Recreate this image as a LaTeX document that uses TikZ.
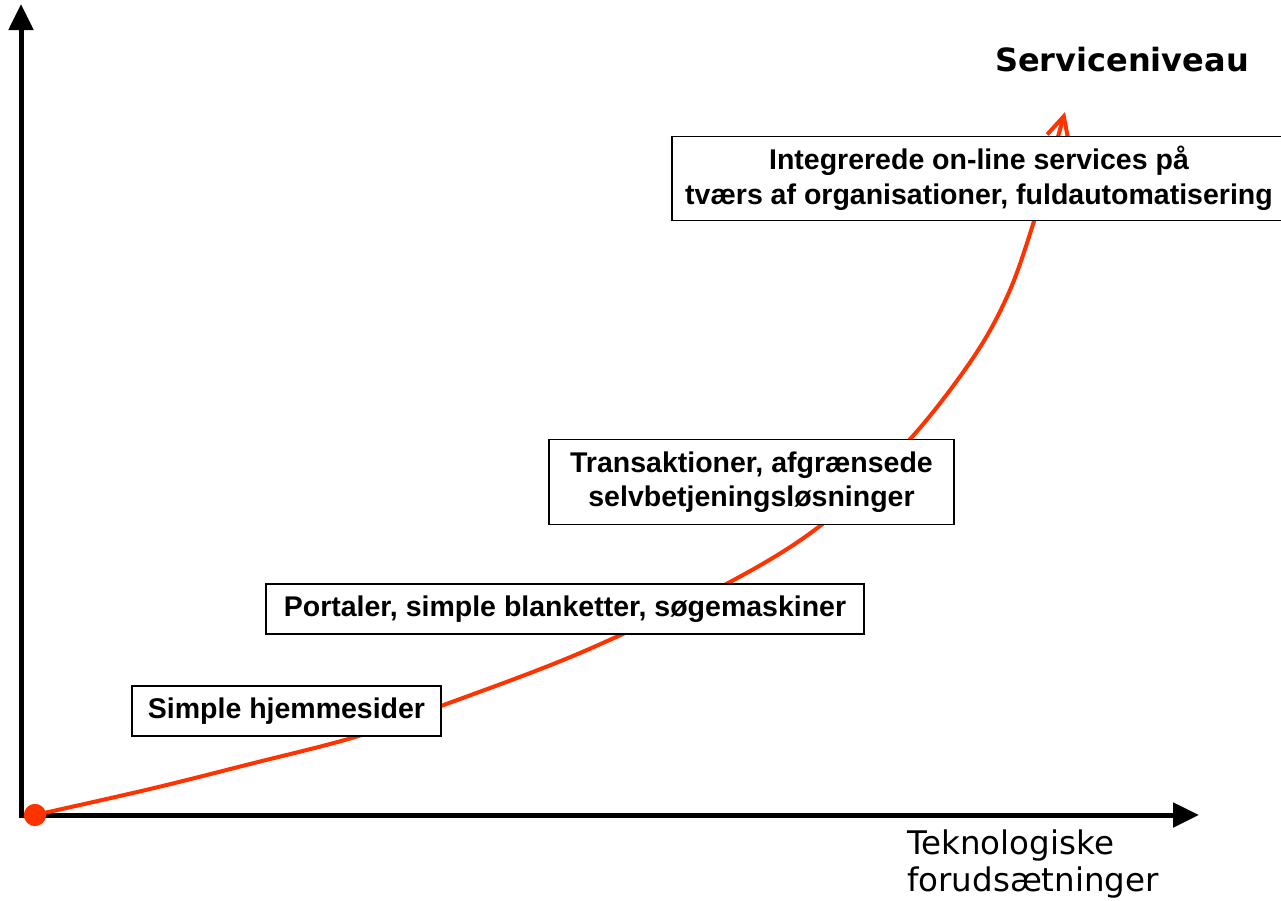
\documentclass[tikz,border=0pt]{standalone}
\usepackage{fontspec}
\newfontfamily\boxfont{Liberation Sans}
\newfontfamily\labfont{DejaVu Sans}
\usetikzlibrary{arrows.meta}
\definecolor{curvered}{RGB}{255,51,0}
\tikzset{
  axis/.style={line width=5pt, -{Triangle[length=26pt,width=24pt]}},
  stagebox/.style={draw=black, fill=white, line width=1.5pt, inner sep=0pt, align=center,
    font=\boxfont\bfseries\fontsize{28.5}{34.5}\selectfont},
  growth/.style={draw=curvered, line width=4pt, -{Straight Barb[length=22pt,width=22pt]}},
}
\begin{document}
\begin{tikzpicture}[x=1pt,y=-1pt]
\useasboundingbox (0,0) rectangle (1281,900);
% axes
\coordinate (origin) at (21,815);
\coordinate (ytop) at (21,4);
\coordinate (xend) at (1199,815);
\draw[axis] (origin) ++(0,2.5) -- (ytop);
\draw[axis] (origin) ++(-2.5,0) -- (xend);
% curve
\node[circle, fill=curvered, minimum size=22pt, inner sep=0pt] (dot) at (35,815) {};
\coordinate (tip) at (1065,112);
\draw[growth] plot[smooth, tension=0.55] coordinates {(35,815) (150,789) (250,764) (355,737) (441,706) (580,653) (730,582) (825,522) (912,437) (975,355) (1010,290) (1035,218) (1050,165) (tip)};
\fill[curvered] (dot) circle (11pt);
% boxes
\node[stagebox, minimum width=309pt, minimum height=50pt] (b1) at (286.5,711) {Simple hjemmesider};
\node[stagebox, minimum width=598pt, minimum height=50pt] (b2) at (565,609) {Portaler, simple blanketter, søgemaskiner};
\node[stagebox, minimum width=405pt, minimum height=85pt] (b3) at (751.5,482) {Transaktioner, afgrænsede\\selvbetjeningsløsninger};
\node[stagebox, minimum width=614pt, minimum height=84pt] (b4) at (979,178.5) {Integrerede on-line services på\\tværs af organisationer, fuldautomatisering};
% labels
\node[font=\labfont\bfseries\fontsize{32}{38}\selectfont, inner sep=0pt] (ylab) at (1122,60) {Serviceniveau};
\node[font=\labfont\fontsize{32.5}{36.5}\selectfont, align=left, anchor=north west, inner sep=0pt] (xlab) at (907,830) {Teknologiske\\forudsætninger};
\end{tikzpicture}
\end{document}
